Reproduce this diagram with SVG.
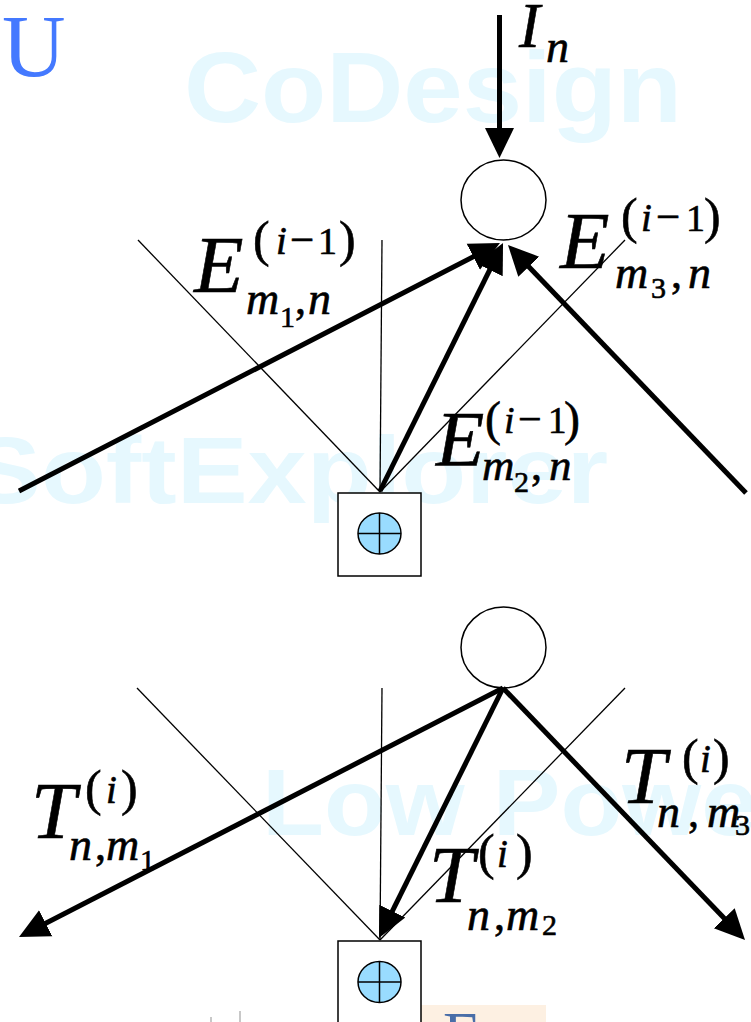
<svg xmlns="http://www.w3.org/2000/svg" width="751" height="1022" viewBox="0 0 751 1022">
<style>
.wm{font-family:"Liberation Sans",Arial,sans-serif;font-weight:bold;fill:#e6f8fe}
.thin{stroke:#000;stroke-width:1.3;fill:none}
.thick{stroke:#000;stroke-width:5;fill:none;marker-end:url(#ah)}
.node{stroke:#000;stroke-width:1.5;fill:#fff}
.adder{stroke:#000;stroke-width:1.5;fill:#99dcff}
.cross{stroke:#000;stroke-width:1.5}
.it{font-style:italic}
</style>
<defs>
<marker id="ah" markerUnits="userSpaceOnUse" markerWidth="32" markerHeight="32" refX="18" refY="14.5" orient="auto" viewBox="0 0 32 29">
<path d="M0,0 L30,14.5 L0,29 Z" fill="#000"/>
</marker>
</defs>
<rect width="751" height="1022" fill="#fff"/>
<g id="watermarks">
<text class="wm" x="184" y="122" font-size="100" textLength="498" lengthAdjust="spacingAndGlyphs">CoDesign</text>
<text class="wm" x="-30" y="503" font-size="95" textLength="638" lengthAdjust="spacingAndGlyphs">SoftExplorer</text>
<text class="wm" x="262" y="835" font-size="95" textLength="535" lengthAdjust="spacingAndGlyphs">Low Power</text>
</g>
<text id="title-fragment" x="2" y="76" font-family="Liberation Serif, serif" font-size="88" fill="#4479ff">U</text>
<g id="bottom-fragments">
<rect x="421" y="1005" width="125" height="17" fill="#fdf0e2"/>
<line x1="211" y1="1017" x2="211" y2="1022" stroke="#c8c8c8" stroke-width="2"/>
<line x1="240" y1="1011" x2="240" y2="1022" stroke="#c8c8c8" stroke-width="2"/>
<text x="443" y="1054" font-family="Liberation Serif, serif" font-size="62" fill="#4a6ea8">E</text>
</g>
<g id="guides">
<line class="thin" x1="138" y1="240" x2="380" y2="492"/>
<line class="thin" x1="382" y1="240" x2="380" y2="492"/>
<line class="thin" x1="625" y1="240" x2="380" y2="492"/>
<line class="thin" x1="137" y1="688" x2="380" y2="940"/>
<line class="thin" x1="382" y1="688" x2="380" y2="940"/>
<line class="thin" x1="625" y1="688" x2="380" y2="940"/>
</g>
<g id="node-n-top">
<ellipse class="node" cx="503.5" cy="200" rx="42.5" ry="40"/>
</g>
<g id="node-adder-top">
<rect class="node" x="338" y="493" width="83" height="83"/>
<ellipse class="adder" cx="379.5" cy="533.5" rx="21.5" ry="20.5"/>
<line class="cross" x1="379.5" y1="513" x2="379.5" y2="554"/>
<line class="cross" x1="358" y1="533.5" x2="401" y2="533.5"/>
</g>
<g id="node-n-bottom">
<ellipse class="node" cx="503.5" cy="647.5" rx="42.5" ry="40.5"/>
</g>
<g id="node-adder-bottom">
<rect class="node" x="338" y="941" width="83" height="90"/>
<ellipse class="adder" cx="379.5" cy="982" rx="21.5" ry="20.5"/>
<line class="cross" x1="379.5" y1="961.5" x2="379.5" y2="1002.5"/>
<line class="cross" x1="358" y1="982" x2="401" y2="982"/>
</g>
<g id="connectors">
<line class="thick" x1="499.5" y1="15" x2="499.5" y2="146"/>
<line class="thick" x1="19" y1="491" x2="489.3" y2="248.5"/>
<line class="thick" x1="380" y1="491" x2="497.7" y2="253.8"/>
<line class="thick" x1="746" y1="493" x2="516.3" y2="253.7"/>
<line class="thick" x1="503" y1="688" x2="29.7" y2="931.5"/>
<line class="thick" x1="503" y1="688" x2="384.3" y2="927.3"/>
<line class="thick" x1="503" y1="688" x2="736.7" y2="931.3"/>
</g>
<g id="labels" font-family="Liberation Serif, serif" fill="#000" stroke="#000" stroke-width="0.6">
<text><tspan class="it" x="519" y="47" font-size="63">I</tspan><tspan class="it" x="546" y="62" font-size="46">n</tspan></text>
<text>
<tspan class="it" x="194" y="292" font-size="81">E</tspan>
<tspan x="253" y="256" font-size="50">(</tspan>
<tspan class="it" x="276" y="254" font-size="39">i</tspan>
<tspan x="290" y="254" font-size="43">−</tspan>
<tspan x="318" y="254" font-size="38">1</tspan>
<tspan x="339" y="256" font-size="50">)</tspan>
<tspan class="it" x="246" y="314" font-size="46">m</tspan>
<tspan x="280" y="327" font-size="30">1</tspan>
<tspan x="295" y="314" font-size="44">,</tspan>
<tspan class="it" x="308" y="314" font-size="46">n</tspan>
</text>
<text>
<tspan class="it" x="560" y="268" font-size="81">E</tspan>
<tspan x="621" y="233" font-size="50">(</tspan>
<tspan class="it" x="641" y="231" font-size="39">i</tspan>
<tspan x="656" y="231" font-size="43">−</tspan>
<tspan x="686" y="231" font-size="38">1</tspan>
<tspan x="704" y="233" font-size="50">)</tspan>
<tspan class="it" x="615" y="288" font-size="46">m</tspan>
<tspan x="651" y="298" font-size="30">3</tspan>
<tspan x="671" y="288" font-size="44">,</tspan>
<tspan class="it" x="688" y="288" font-size="46">n</tspan>
</text>
<text>
<tspan class="it" x="436" y="465" font-size="79">E</tspan>
<tspan x="485" y="435" font-size="48">(</tspan>
<tspan class="it" x="504" y="433" font-size="38">i</tspan>
<tspan x="518" y="433" font-size="42">−</tspan>
<tspan x="548" y="433" font-size="37">1</tspan>
<tspan x="564" y="435" font-size="48">)</tspan>
<tspan class="it" x="482" y="480" font-size="45">m</tspan>
<tspan x="514" y="492" font-size="30">2</tspan>
<tspan x="531" y="480" font-size="44">,</tspan>
<tspan class="it" x="549" y="480" font-size="45">n</tspan>
</text>
<text>
<tspan class="it" x="31" y="838" font-size="81">T</tspan>
<tspan x="85" y="805" font-size="50">(</tspan>
<tspan class="it" x="106" y="803" font-size="39">i</tspan>
<tspan x="121" y="805" font-size="50">)</tspan>
<tspan class="it" x="69" y="860" font-size="46">n</tspan>
<tspan x="95" y="860" font-size="44">,</tspan>
<tspan class="it" x="106" y="860" font-size="46">m</tspan>
<tspan x="140" y="870" font-size="30">1</tspan>
</text>
<text>
<tspan class="it" x="429" y="902" font-size="81">T</tspan>
<tspan x="478" y="869" font-size="50">(</tspan>
<tspan class="it" x="497" y="867" font-size="39">i</tspan>
<tspan x="516" y="869" font-size="50">)</tspan>
<tspan class="it" x="467" y="930" font-size="46">n</tspan>
<tspan x="494" y="930" font-size="44">,</tspan>
<tspan class="it" x="506" y="930" font-size="46">m</tspan>
<tspan x="542" y="935" font-size="30">2</tspan>
</text>
<text>
<tspan class="it" x="621" y="803" font-size="81">T</tspan>
<tspan x="682" y="774" font-size="50">(</tspan>
<tspan class="it" x="700" y="772" font-size="39">i</tspan>
<tspan x="713" y="774" font-size="50">)</tspan>
<tspan class="it" x="657" y="827" font-size="46">n</tspan>
<tspan x="688" y="827" font-size="44">,</tspan>
<tspan class="it" x="707" y="827" font-size="46">m</tspan>
<tspan x="735" y="835" font-size="30">3</tspan>
</text>
</g>
</svg>
